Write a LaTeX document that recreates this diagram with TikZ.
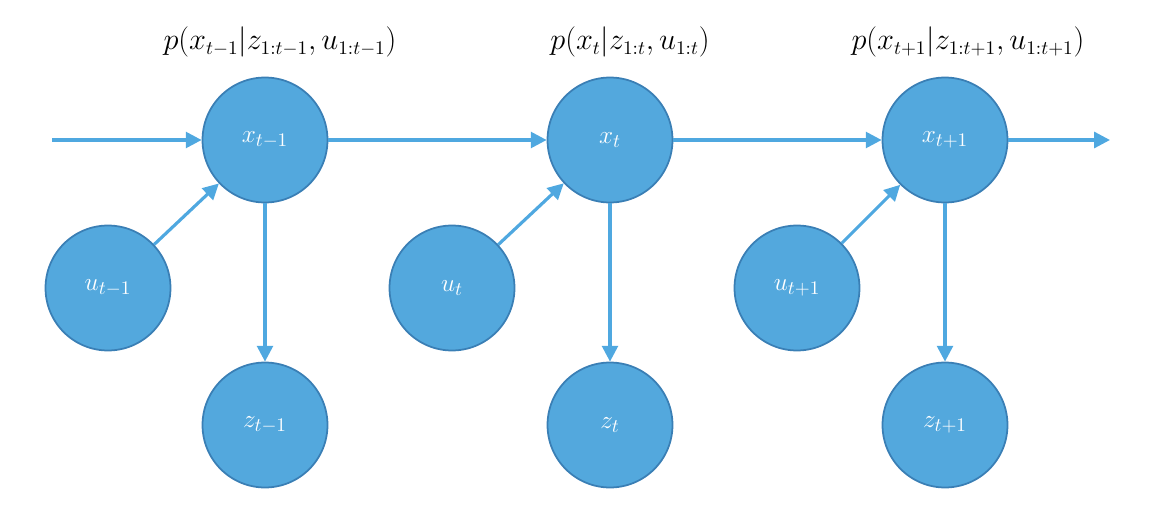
\documentclass[tikz,border=0pt]{standalone}
\usetikzlibrary{arrows.meta}
\definecolor{nodefill}{HTML}{53A8DD}
\definecolor{nodeborder}{HTML}{3A7FB5}
\definecolor{arrowc}{HTML}{4FA8E0}
\begin{document}
\begin{tikzpicture}[x=0.02cm,y=-0.02cm,
  st/.style={circle,fill=nodefill,draw=nodeborder,line width=1pt,minimum size=2.5cm,inner sep=0pt,text=white,font=\fontsize{15}{18}\selectfont},
  ar/.style={draw=arrowc,line width=1.8pt,-{Triangle[length=9pt,width=9pt]}},
  lab/.style={font=\fontsize{16}{19}\selectfont}]
\useasboundingbox (0,0) rectangle (1163,510);
\node[st] (x1) at (265,140) {$x_{t-1}$};
\node[st] (x2) at (610,140) {$x_t$};
\node[st] (x3) at (945,140) {$x_{t+1}$};
\node[st] (u1) at (108,288) {$u_{t-1}$};
\node[st] (u2) at (452,288) {$u_t$};
\node[st] (u3) at (797,288) {$u_{t+1}$};
\node[st] (z1) at (265,425) {$z_{t-1}$};
\node[st] (z2) at (610,425) {$z_t$};
\node[st] (z3) at (945,425) {$z_{t+1}$};
\node[lab] (l1) at (280,42) {$p(x_{t-1}|z_{1:t-1},u_{1:t-1})$};
\node[lab] (l2) at (630,42) {$p(x_t|z_{1:t},u_{1:t})$};
\node[lab] (l3) at (968,42) {$p(x_{t+1}|z_{1:t+1},u_{1:t+1})$};
\coordinate (in) at (52,140);
\coordinate (out) at (1110,140);
\draw[ar] (in) -- (x1);
\draw[ar] (x1) -- (x2);
\draw[ar] (x2) -- (x3);
\draw[ar] (x3) -- (out);
\draw[ar] (u1) -- (x1);
\draw[ar] (u2) -- (x2);
\draw[ar] (u3) -- (x3);
\draw[ar] (x1) -- (z1);
\draw[ar] (x2) -- (z2);
\draw[ar] (x3) -- (z3);
\end{tikzpicture}
\end{document}
